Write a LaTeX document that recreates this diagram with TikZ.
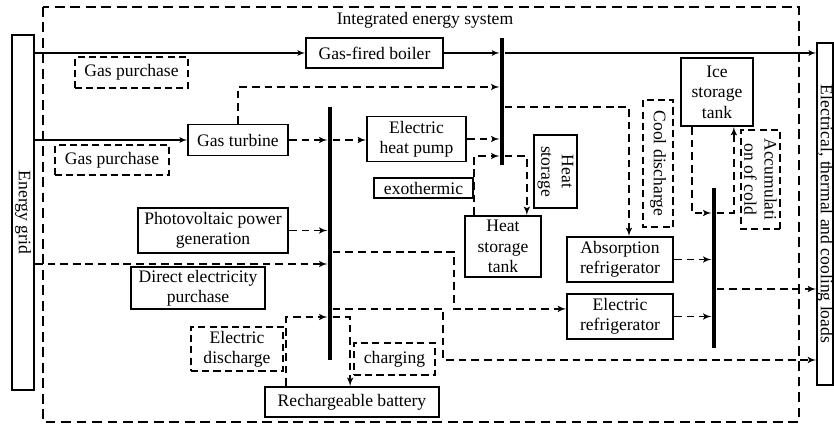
\documentclass[tikz,border=0pt]{standalone}
\usepackage{fontspec}
\setmainfont{Liberation Serif}
\usepackage{tikz}
\usetikzlibrary{arrows, positioning, shapes}
\tikzstyle{block} = [rectangle, draw, line width=1.2pt, text centered, align=center, inner sep=1pt]
\tikzstyle{tag} = [rectangle, draw, line width=1.2pt, dash pattern=on 5pt off 3pt, text centered, align=center, inner sep=1pt]
\tikzstyle{bus} = [rectangle, fill=black, minimum width=3.2pt, inner sep=0pt]
\tikzstyle{frame} = [draw, line width=1.1pt, dash pattern=on 7pt off 4pt]
\tikzstyle{line} = [draw, line width=0.9pt, -latex']
\tikzstyle{dline} = [draw, line width=1.1pt, dash pattern=on 5.5pt off 3.5pt, -latex']

\begin{document}
\begin{tikzpicture}[x=0.025cm, y=-0.025cm, every node/.style={font=\fontsize{12.5}{14.5}\selectfont}]
\useasboundingbox (0,0) rectangle (834,425);
\draw [frame] (43,7) rectangle (799,422);
\node (ies) at (425,20) {Integrated energy system};

\node (grid) [block, rotate=-90, minimum width=8.875cm, minimum height=0.55cm, inner sep=0pt] at (23,212.5) {Energy grid};
\node (loads) [block, rotate=-90, minimum width=8.55cm, minimum height=0.38cm, inner sep=0pt] at (825,214) {Electrical, thermal and cooling loads};

\node (boiler) [block, minimum width=3.425cm, minimum height=0.75cm] at (374.5,53) {Gas-fired boiler};
\node (gp1) [tag, minimum width=2.825cm, minimum height=0.775cm] at (131.5,72.5) {Gas purchase};
\node (turbine) [block, minimum width=2.5cm, minimum height=0.775cm] at (238,140) {Gas turbine};
\node (gp2) [tag, minimum width=2.85cm, minimum height=0.75cm] at (112,160) {Gas purchase};
\node (ehp) [block, minimum width=2.475cm, minimum height=1.125cm] at (416.5,139) {Electric\\heat pump};
\node (exo) [block, minimum width=2.475cm, minimum height=0.5cm, inner sep=0pt] at (423.5,188) {exothermic};
\node (hst) [block, rotate=-90, minimum width=1.825cm, minimum height=1.075cm] at (555.5,171.5) {Heat\\storage};
\node (hstank) [block, minimum width=1.9cm, minimum height=1.525cm] at (503,246.5) {Heat\\storage\\tank};
\node (cdis) [tag, rotate=-90, minimum width=3.175cm, minimum height=0.75cm] at (658,163.5) {Cool discharge};
\node (ice) [block, minimum width=1.8cm, minimum height=1.7cm] at (717,92) {Ice\\storage\\tank};
\node (acc) [tag, rotate=-90, minimum width=2.475cm, minimum height=0.975cm] at (760.5,179.5) {Accumulati\\on of cold};
\node (absr) [block, minimum width=2.65cm, minimum height=1.125cm] at (620,259.5) {Absorption\\refrigerator};
\node (elr) [block, minimum width=2.65cm, minimum height=1.125cm] at (620,316.5) {Electric\\refrigerator};
\node (pv) [block, minimum width=3.75cm, minimum height=1.125cm] at (213,230.5) {Photovoltaic power\\generation};
\node (dep) [block, minimum width=3.35cm, minimum height=1.05cm] at (198,288) {Direct electricity\\purchase};
\node (edis) [tag, minimum width=2.3cm, minimum height=1.1cm] at (237,349) {Electric\\discharge};
\node (chg) [tag, minimum width=2.025cm, minimum height=0.8cm] at (394.5,359) {charging};
\node (batt) [block, minimum width=4.35cm, minimum height=0.75cm] at (352,402) {Rechargeable battery};

\node (hbus) [bus, minimum height=3.175cm] at (502,101.5) {};
\node (ebus) [bus, minimum height=6.325cm] at (330,233.5) {};
\node (cbus) [bus, minimum height=4cm] at (714,268) {};

% Draw edges
\path [line] (grid.north |- boiler) -- (boiler);
\path [line] (boiler) -- (boiler -| hbus.west);
\path [line] (boiler -| hbus.east) -- (boiler -| loads.south);
\path [line] (grid.north |- turbine) -- (turbine);
\path [dline] (turbine.north) |- (hbus.west |- 0,87);
\path [dline] (turbine) -- (turbine -| ebus.west);
\path [dline] (turbine -| ebus.east) -- (turbine -| ehp.west);
\path [dline] (ehp) -- (ehp -| hbus.west);
\path [dline] (hbus.east |- 0,107) -| ([xshift=0.225cm]absr.north);
\path [dline] ([xshift=0.25cm]hstank.north west) |- (hbus.west |- 0,156);
\path [dline] (hbus.east |- 0,156) -| ([xshift=-0.375cm]hstank.north east);
\path [dline] ([xshift=0.3cm]ice.south west) |- (cbus.west |- 0,213);
\path [dline] (cbus.east |- 0,213) -| ([xshift=-0.5cm]ice.south east);
\path [dline] (absr) -- (absr -| cbus.west);
\path [dline] (elr) -- (elr -| cbus.west);
\path [dline] (cbus.east |- 0,289) -- (loads.south |- 0,289);
\path [dline] (pv) -- (pv -| ebus.west);
\path [dline] (grid.north |- 0,264) -- (ebus.west |- 0,264);
\path [dline] (ebus.east |- 0,252) -- (454,252) |- ([yshift=0.19cm]elr.west);
\path [dline] (ebus.east |- 0,309) -- (443,309) |- (loads.south |- 0,360);
\path [dline] ([xshift=0.55cm]batt.north west) |- (ebus.west |- 0,317);
\path [dline] (ebus.east |- 0,317) -| ([xshift=2.15cm]batt.north west);

\end{tikzpicture}
\end{document}
